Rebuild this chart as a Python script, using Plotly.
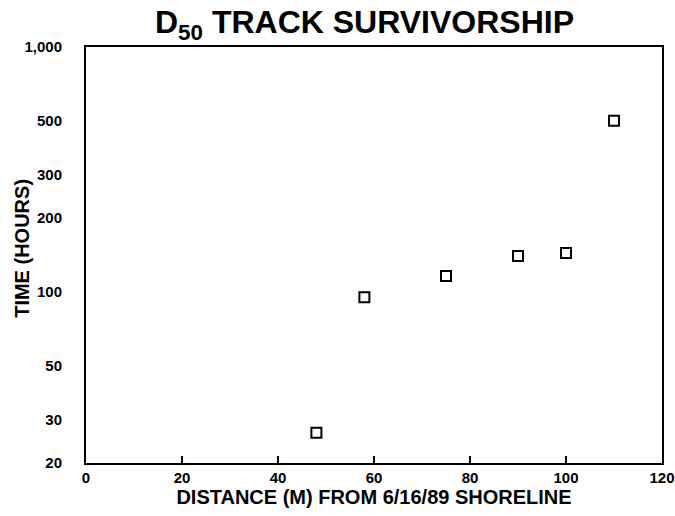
import plotly.graph_objects as go
import math

distance_m = [48, 58, 75, 90, 100, 110]
time_hours = [26.6, 95, 116, 140, 144, 500]

x_ticks = [0, 20, 40, 60, 80, 100, 120]
y_ticks = [20, 30, 50, 100, 200, 300, 500, 1000]
y_tick_text = ["20", "30", "50", "100", "200", "300", "500", "1,000"]

FONT = "Liberation Sans, Arial, sans-serif"

fig = go.Figure()
fig.add_trace(go.Scatter(
    x=distance_m, y=time_hours, mode="markers",
    marker=dict(symbol="square-open", size=10, color="black",
                line=dict(width=2, color="black")),
    showlegend=False, hoverinfo="x+y",
))

fig.update_layout(
    width=675, height=516,
    paper_bgcolor="white", plot_bgcolor="white",
    margin=dict(l=86, r=13, t=47, b=53),
    title=dict(text="<b>D<sub>50</sub> TRACK SURVIVORSHIP</b>",
               x=0.54, xanchor="center", y=0.957, yanchor="middle",
               font=dict(family=FONT, size=32, color="black")),
    font=dict(family=FONT, color="black"),
)

fig.update_xaxes(
    range=[0, 120], tickvals=x_ticks,
    ticktext=[f"<b>{v}</b>" for v in x_ticks],
    showgrid=False, zeroline=False, automargin=False,
    showline=True, linecolor="black", linewidth=2, mirror=True,
    ticks="inside", ticklen=7, tickwidth=1.5, tickcolor="black",
    ticklabeloverflow="allow",
    tickfont=dict(family=FONT, size=15, color="black"),
    title=dict(text="<b>DISTANCE (M) FROM 6/16/89 SHORELINE</b>",
               font=dict(family=FONT, size=20, color="black"), standoff=2),
)

fig.update_yaxes(
    type="log", range=[math.log10(20), 3], tickvals=y_ticks,
    ticktext=[f"<b>{t}</b>" for t in y_tick_text],
    showgrid=False, zeroline=False, automargin=False,
    showline=True, linecolor="black", linewidth=2, mirror=True,
    ticks="", ticklabelstandoff=19,
    tickfont=dict(family=FONT, size=15, color="black"),
)

# y-axis title placed as a rotated annotation (sits close to the tick labels as in the original)
fig.add_annotation(
    text="<b>TIME (HOURS)</b>", textangle=-90,
    xref="paper", yref="paper", x=-0.111, y=0.515,
    xanchor="center", yanchor="middle", showarrow=False,
    font=dict(family=FONT, size=20, color="black"),
)

# remove the browser's default 8px page margin so the 675x516 figure fills the window
fig.write_html("out.html",
               config={"displayModeBar": False},
               post_script="document.body.style.margin='0';"
                           "document.body.style.overflow='hidden';")
